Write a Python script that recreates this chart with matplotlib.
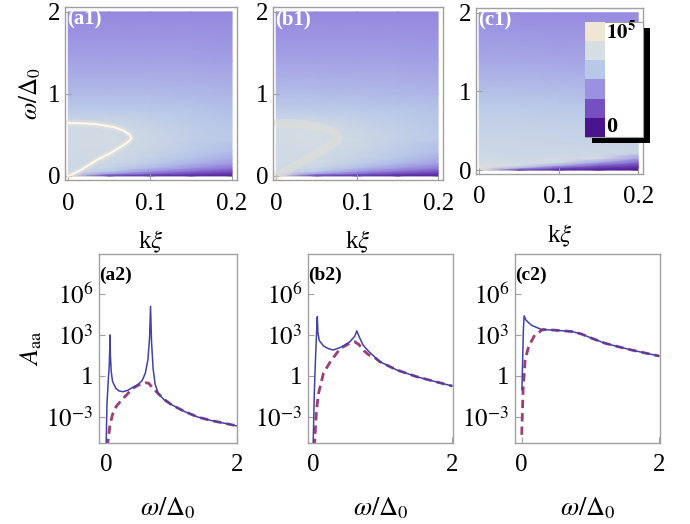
import numpy as np
import matplotlib
matplotlib.use('Agg')
import matplotlib.pyplot as plt
from matplotlib.colors import LinearSegmentedColormap
from matplotlib.patches import Rectangle
from matplotlib.ticker import FixedLocator, NullLocator

plt.rcParams['font.family'] = 'serif'
plt.rcParams['font.serif'] = ['Liberation Serif', 'DejaVu Serif']
plt.rcParams['mathtext.fontset'] = 'stix'

# ---- colour scale (bands of the legend, bottom to top)
band_colors = ['#4B148F', '#7650C0', '#9B91E3', '#B8C8E8', '#D6DEE3', '#F0E6D4']

# ---- density maps: level on colour scale (0..1), rows = omega, cols = k xi
kxi = [0.0, 0.05, 0.1, 0.15, 0.2]
omega_rows = [0.0, 0.03, 0.06, 0.10, 0.15, 0.22, 0.30, 0.45, 0.60, 0.80, 1.00, 1.40, 2.00]

level_a1 = [
    [0.80, 0.12, 0.08, 0.06, 0.04],
    [0.76, 0.45, 0.28, 0.18, 0.12],
    [0.75, 0.62, 0.42, 0.30, 0.20],
    [0.75, 0.70, 0.55, 0.42, 0.32],
    [0.75, 0.73, 0.63, 0.52, 0.42],
    [0.75, 0.75, 0.68, 0.58, 0.50],
    [0.75, 0.76, 0.71, 0.62, 0.56],
    [0.76, 0.78, 0.73, 0.66, 0.61],
    [0.76, 0.76, 0.70, 0.64, 0.60],
    [0.62, 0.62, 0.61, 0.59, 0.57],
    [0.55, 0.55, 0.55, 0.54, 0.53],
    [0.46, 0.46, 0.46, 0.46, 0.45],
    [0.37, 0.37, 0.37, 0.37, 0.37],
]
level_b1 = [
    [0.80, 0.12, 0.08, 0.06, 0.04],
    [0.77, 0.47, 0.30, 0.19, 0.13],
    [0.76, 0.64, 0.44, 0.32, 0.22],
    [0.76, 0.72, 0.57, 0.44, 0.34],
    [0.76, 0.75, 0.65, 0.54, 0.44],
    [0.76, 0.76, 0.69, 0.60, 0.51],
    [0.76, 0.77, 0.72, 0.63, 0.57],
    [0.77, 0.79, 0.74, 0.67, 0.62],
    [0.77, 0.77, 0.71, 0.65, 0.61],
    [0.63, 0.63, 0.62, 0.60, 0.58],
    [0.56, 0.56, 0.55, 0.54, 0.53],
    [0.46, 0.46, 0.46, 0.46, 0.45],
    [0.37, 0.37, 0.37, 0.37, 0.37],
]
level_c1 = [
    [0.95, 0.10, 0.05, 0.03, 0.02],
    [0.88, 0.55, 0.22, 0.12, 0.08],
    [0.82, 0.80, 0.50, 0.25, 0.15],
    [0.78, 0.76, 0.78, 0.48, 0.28],
    [0.76, 0.74, 0.75, 0.77, 0.45],
    [0.74, 0.73, 0.73, 0.74, 0.72],
    [0.72, 0.72, 0.71, 0.71, 0.70],
    [0.70, 0.70, 0.69, 0.68, 0.67],
    [0.67, 0.67, 0.66, 0.65, 0.64],
    [0.62, 0.62, 0.61, 0.60, 0.59],
    [0.57, 0.57, 0.56, 0.55, 0.55],
    [0.48, 0.48, 0.47, 0.47, 0.46],
    [0.38, 0.38, 0.38, 0.38, 0.38],
]

# bright resonance ridge in (a1)/(b1)
ridge_k = [0.0, 0.02, 0.035, 0.056, 0.068, 0.075, 0.077, 0.074, 0.065, 0.05, 0.035, 0.0155, 0.005, 0.0]
ridge_w = [0.645, 0.64, 0.63, 0.594, 0.55, 0.50, 0.46, 0.42, 0.36, 0.27, 0.195, 0.073, 0.02, 0.0]

# ---- spectral functions, log10(A_aa)
w_a2_blue = [0.0, 0.015, 0.035, 0.05, 0.058, 0.062, 0.067, 0.08, 0.10, 0.15, 0.20, 0.26, 0.33, 0.40, 0.48,
             0.55, 0.60, 0.64, 0.665, 0.68, 0.695, 0.72, 0.75, 0.80, 0.90, 1.0, 1.2, 1.4, 1.6, 1.8, 2.0]
A_a2_blue = [-5.5, -2.0, -0.3, 0.8, 2.2, 3.0, 1.5, 0.3, -0.4, -0.9, -1.1, -1.15, -1.05, -0.85, -0.65,
             -0.35, 0.2, 1.2, 2.8, 5.1, 2.5, 0.5, -0.6, -1.3, -1.8, -2.1, -2.6, -3.0, -3.25, -3.45, -3.65]
w_a2_red = [0.02, 0.06, 0.10, 0.16, 0.23, 0.31, 0.41, 0.50, 0.60, 0.65, 0.70, 0.80, 0.90, 1.0,
            1.2, 1.4, 1.6, 1.8, 2.0]
A_a2_red = [-5.2, -3.6, -2.8, -2.2, -1.8, -1.4, -0.9, -0.65, -0.5, -0.52, -0.8, -1.3, -1.75, -2.1,
            -2.6, -3.0, -3.25, -3.45, -3.65]

w_b2_blue = [0.0, 0.02, 0.04, 0.055, 0.062, 0.07, 0.09, 0.15, 0.22, 0.29, 0.40, 0.53, 0.60, 0.63,
             0.67, 0.72, 0.80, 0.96, 1.2, 1.49, 1.75, 2.0]
A_b2_blue = [-5.5, -1.0, 1.8, 3.6, 4.34, 3.2, 2.6, 2.2, 2.0, 1.9, 2.1, 2.5, 2.9, 3.3,
             2.8, 2.27, 1.8, 1.05, 0.45, -0.05, -0.4, -0.73]
w_b2_red = [0.02, 0.05, 0.08, 0.15, 0.25, 0.39, 0.53, 0.60, 0.66, 0.72, 0.80, 0.90, 0.96, 1.2,
            1.49, 1.75, 2.0]
A_b2_red = [-5.2, -2.5, -1.27, 0.2, 1.05, 2.0, 2.4, 2.5, 2.3, 1.9, 1.55, 1.3, 1.05, 0.45,
            -0.05, -0.4, -0.73]

w_c2_blue = [0.003, 0.015, 0.025, 0.035, 0.06, 0.10, 0.145, 0.29, 0.48, 0.73, 0.87, 1.0, 1.21,
             1.4, 1.6, 1.8, 2.0]
A_c2_blue = [-1.0, 1.5, 3.5, 4.4, 4.1, 3.9, 3.7, 3.4, 3.35, 3.25, 3.07, 2.8, 2.4,
             2.15, 1.9, 1.68, 1.46]
w_c2_red = [0.0, 0.02, 0.05, 0.10, 0.19, 0.31, 0.48, 0.73, 0.87, 1.0, 1.21, 1.4, 1.6, 1.8, 2.0]
A_c2_red = [-4.3, -1.0, 1.17, 2.15, 3.0, 3.4, 3.35, 3.25, 3.07, 2.8, 2.4, 2.15, 1.9, 1.68, 1.46]

top_labels = ['(a1)', '(b1)', '(c1)']
bottom_labels = ['(a2)', '(b2)', '(c2)']

blue = '#4242A8'
red = '#9E3C74'
frame_grey = '#A0A0A0'
fs = 18

cmap = LinearSegmentedColormap.from_list('dens', band_colors)

fig = plt.figure(figsize=(6.9, 5.24), dpi=100)
W, H = 690.0, 524.0


def px_axes(x0, y0, x1, y1):
    return fig.add_axes([x0 / W, 1 - y1 / H, (x1 - x0) / W, (y1 - y0) / H])


def style(ax):
    for s in ax.spines.values():
        s.set_color(frame_grey)
        s.set_linewidth(1.0)
    ax.tick_params(direction='in', color=frame_grey, length=4, width=0.8,
                   labelsize=fs, pad=6)
    ax.tick_params(which='minor', length=0)


# ---- top row: density plots
top_frames = [(65, 7, 237, 180), (273, 7, 443, 180), (476, 8, 643, 174)]
levels = [level_a1, level_b1, level_c1]
K, Wg = np.meshgrid(kxi, omega_rows)
for i, (fr, lev) in enumerate(zip(top_frames, levels)):
    ax = px_axes(*fr)
    ax.pcolormesh(K, Wg, np.array(lev), cmap=cmap, vmin=0, vmax=1, shading='gouraud')
    if i == 0:
        ax.plot(ridge_k, ridge_w, color='#F0E6D4', lw=5, alpha=0.35, solid_capstyle='round')
        ax.plot(ridge_k, ridge_w, color='#FFF8EA', lw=1.6)
    elif i == 1:
        ax.plot(ridge_k, ridge_w, color='#E6E0D4', lw=6, alpha=0.45, solid_capstyle='round')
    ax.set_xlim(-0.004, 0.206)
    ax.set_ylim(-0.05, 2.06)
    ax.set_xticks([0, 0.1, 0.2])
    ax.set_xticklabels(['0', '0.1', '0.2'])
    ax.set_yticks([0, 1, 2])
    ax.set_yticklabels(['0', '1', '2'])
    style(ax)
    ax.tick_params(axis='x', pad=9)
    ax.tick_params(axis='y', pad=3)
    ax.set_xlabel(r'k$\xi$', fontsize=fs, labelpad=10)
    if i == 0:
        ax.set_ylabel(r'$\omega/\Delta_0$', fontsize=fs, labelpad=4)
    ax.text(0.015, 0.985, top_labels[i], transform=ax.transAxes, color='white',
            fontsize=15, fontweight='bold', va='top', ha='left')

# ---- legend of colour scale inside (c1)
fig.add_artist(Rectangle((592 / W, 1 - 143 / H), 58 / W, 115 / H, transform=fig.transFigure,
                         facecolor='black', edgecolor='none', zorder=2))
fig.add_artist(Rectangle((585 / W, 1 - 137 / H), 58 / W, 115 / H, transform=fig.transFigure,
                         facecolor='white', edgecolor=frame_grey, lw=0.8, zorder=3))
cax = fig.add_axes([585 / W, 1 - 137 / H, 20 / W, 115 / H], zorder=4)
cax.imshow(np.arange(len(band_colors))[::-1].reshape(-1, 1), cmap=LinearSegmentedColormap.from_list(
    'bands', band_colors, N=len(band_colors)), aspect='auto', interpolation='nearest')
cax.set_axis_off()
fig.text(606 / W, 1 - 33 / H, r'$\mathbf{10^5}$', fontsize=15, va='center', ha='left', zorder=5)
fig.text(606 / W, 1 - 127 / H, '0', fontsize=16, fontweight='bold', va='center', ha='left', zorder=5)

# ---- bottom row: spectral functions
bottom_frames = [(99, 254, 237, 443), (308, 254, 453, 443), (515, 254, 660, 443)]
xlims = [(-0.107, 2.0), (-0.072, 2.014), (-0.098, 2.015)]
curves = [(w_a2_blue, A_a2_blue, w_a2_red, A_a2_red),
          (w_b2_blue, A_b2_blue, w_b2_red, A_b2_red),
          (w_c2_blue, A_c2_blue, w_c2_red, A_c2_red)]
for i, (fr, xl, cv) in enumerate(zip(bottom_frames, xlims, curves)):
    ax = px_axes(*fr)
    wb, ab, wr, ar = cv
    ax.semilogy(wr, 10.0 ** np.array(ar), color=red, lw=2.0, ls=(0, (3.0, 1.8)))
    ax.semilogy(wb, 10.0 ** np.array(ab), color=blue, lw=1.1)
    ax.set_xlim(*xl)
    ax.set_ylim(10 ** -4.9, 10 ** 8.92)
    ax.set_xticks([0, 2])
    ax.set_xticklabels(['0', '2'])
    ax.yaxis.set_major_locator(FixedLocator([1e-3, 1, 1e3, 1e6]))
    ax.yaxis.set_minor_locator(NullLocator())
    ax.set_yticklabels([r'$10^{-3}$', '1', r'$10^{3}$', r'$10^{6}$'])
    style(ax)
    ax.tick_params(axis='x', pad=8)
    ax.tick_params(axis='y', pad=4)
    ax.set_xlabel(r'$\omega/\Delta_0$', fontsize=fs + 1, labelpad=14)
    if i == 0:
        ax.set_ylabel(r'$A_{\rm aa}$', fontsize=fs + 1, labelpad=2)
    ax.text(0.0, 0.885, bottom_labels[i], transform=ax.transAxes, color='black',
            fontsize=14, fontweight='bold', va='center', ha='left')

fig.savefig('out.png', dpi=100)
